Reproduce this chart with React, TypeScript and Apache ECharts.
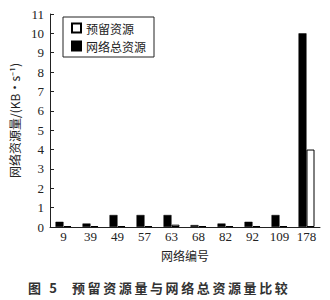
import React, { useEffect, useRef } from "react";
import * as echarts from "echarts";

const categories = ["9", "39", "49", "57", "63", "68", "82", "92", "109", "178"];
const totalResource = [0.27, 0.18, 0.62, 0.62, 0.62, 0.1, 0.18, 0.27, 0.62, 10];
const reservedResource = [0.05, 0.05, 0.05, 0.05, 0.12, 0.05, 0.05, 0.05, 0.05, 4];
const yTicks = { min: 0, max: 11, interval: 1 };
const figLabel = "图 5";
const figTitle = "预留资源量与网络总资源量比较";

const serif = "'Liberation Serif', 'Noto Sans CJK SC', serif";
const cjk = "'Noto Sans CJK SC', sans-serif";

export default function App() {
  const ref = useRef<HTMLDivElement>(null);
  useEffect(() => {
    if (!ref.current) return;
    const chart = echarts.init(ref.current, null, { renderer: "svg" });
    chart.setOption({
      animation: false,
      backgroundColor: "#fff",
      grid: { left: 48, top: 14, width: 272, height: 213 },
      legend: {
        orient: "vertical",
        left: 63,
        top: 17,
        data: ["预留资源", "网络总资源"],
        borderColor: "#222",
        borderWidth: 1,
        padding: [5, 8, 5, 8],
        itemWidth: 9,
        itemHeight: 9,
        itemGap: 6,
        icon: "rect",
        textStyle: { fontFamily: cjk, fontSize: 12, color: "#222" },
      },
      xAxis: {
        type: "category",
        data: categories,
        name: "网络编号",
        nameLocation: "middle",
        nameGap: 22,
        nameTextStyle: { fontFamily: cjk, fontSize: 12, color: "#222" },
        axisLine: { lineStyle: { color: "#222", width: 1 } },
        axisTick: { show: false },
        axisLabel: { fontFamily: serif, fontSize: 13, color: "#222", margin: 3, interval: 0 },
      },
      yAxis: {
        type: "value",
        min: yTicks.min,
        max: yTicks.max,
        interval: yTicks.interval,
        name: "网络资源量/(KB·s⁻¹)",
        nameLocation: "middle",
        nameGap: 30,
        nameTextStyle: { fontFamily: cjk, fontSize: 12, color: "#222" },
        axisLine: { show: true, lineStyle: { color: "#222", width: 1 } },
        axisTick: { show: true, inside: true, length: 4, lineStyle: { color: "#222" } },
        axisLabel: { fontFamily: serif, fontSize: 13, color: "#222", margin: 6 },
        splitLine: { show: false },
      },
      series: [
        {
          name: "网络总资源",
          type: "bar",
          data: totalResource,
          barWidth: 8,
          barGap: "0%",
          itemStyle: { color: "#000", borderColor: "#000", borderWidth: 0.5 },
        },
        {
          name: "预留资源",
          type: "bar",
          data: reservedResource,
          barWidth: 8,
          barGap: "0%",
          itemStyle: { color: "#fff", borderColor: "#000", borderWidth: 1 },
        },
      ],
      graphic: [
        {
          type: "text",
          left: 28,
          top: 281,
          style: {
            text: figLabel.split("").join("\u2009"),
            fontFamily: cjk,
            fontSize: 13,
            fontWeight: "bold",
            fill: "#333",
          },
        },
        {
          type: "text",
          left: 72,
          top: 281,
          style: {
            text: figTitle.split("").join("\u2009"),
            fontFamily: cjk,
            fontSize: 13,
            fontWeight: "bold",
            fill: "#333",
          },
        },
      ],
    });
    return () => chart.dispose();
  }, []);
  return (
    <div
      ref={ref}
      style={{ position: "absolute", left: 0, top: 0, width: 330, height: 300 }}
    />
  );
}
